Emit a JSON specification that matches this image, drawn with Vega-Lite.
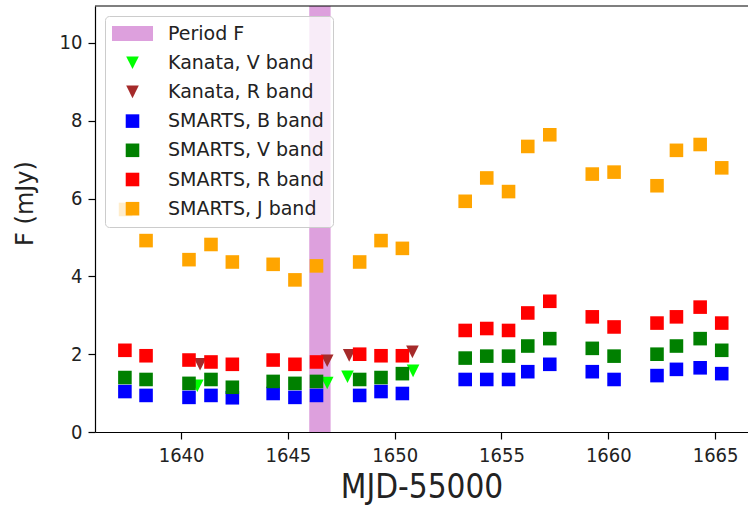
{
  "$schema": "https://vega.github.io/schema/vega-lite/v6.json",
  "width": 653,
  "height": 426,
  "autosize": {"type": "none"},
  "padding": {"left": 95, "top": 6, "right": 0, "bottom": 73},
  "background": "white",
  "config": {
    "view": {"stroke": null},
    "font": "DejaVu Sans Condensed, DejaVu Sans"
  },
  "datasets": {
    "band": [{"series": "Period F", "start": 1646.0, "end": 1647.0}],
    "photometry": [
      {"series": "Kanata, V band", "mjd": 1640.76, "flux": 1.19},
      {"series": "Kanata, V band", "mjd": 1646.84, "flux": 1.26},
      {"series": "Kanata, V band", "mjd": 1647.79, "flux": 1.42},
      {"series": "Kanata, V band", "mjd": 1650.86, "flux": 1.57},
      {"series": "Kanata, R band", "mjd": 1640.89, "flux": 1.74},
      {"series": "Kanata, R band", "mjd": 1646.84, "flux": 1.83},
      {"series": "Kanata, R band", "mjd": 1647.87, "flux": 1.97},
      {"series": "Kanata, R band", "mjd": 1650.83, "flux": 2.06},
      {"series": "SMARTS, B band", "mjd": 1637.37, "flux": 1.04},
      {"series": "SMARTS, B band", "mjd": 1638.36, "flux": 0.94},
      {"series": "SMARTS, B band", "mjd": 1640.37, "flux": 0.89},
      {"series": "SMARTS, B band", "mjd": 1641.40, "flux": 0.94},
      {"series": "SMARTS, B band", "mjd": 1642.40, "flux": 0.88},
      {"series": "SMARTS, B band", "mjd": 1644.31, "flux": 0.99},
      {"series": "SMARTS, B band", "mjd": 1645.33, "flux": 0.89},
      {"series": "SMARTS, B band", "mjd": 1646.34, "flux": 0.94},
      {"series": "SMARTS, B band", "mjd": 1648.36, "flux": 0.94},
      {"series": "SMARTS, B band", "mjd": 1649.36, "flux": 1.04},
      {"series": "SMARTS, B band", "mjd": 1650.36, "flux": 0.99},
      {"series": "SMARTS, B band", "mjd": 1653.30, "flux": 1.35},
      {"series": "SMARTS, B band", "mjd": 1654.31, "flux": 1.35},
      {"series": "SMARTS, B band", "mjd": 1655.33, "flux": 1.35},
      {"series": "SMARTS, B band", "mjd": 1656.23, "flux": 1.55},
      {"series": "SMARTS, B band", "mjd": 1657.26, "flux": 1.74},
      {"series": "SMARTS, B band", "mjd": 1659.25, "flux": 1.55},
      {"series": "SMARTS, B band", "mjd": 1660.27, "flux": 1.35},
      {"series": "SMARTS, B band", "mjd": 1662.28, "flux": 1.45},
      {"series": "SMARTS, B band", "mjd": 1663.19, "flux": 1.61},
      {"series": "SMARTS, B band", "mjd": 1664.30, "flux": 1.65},
      {"series": "SMARTS, B band", "mjd": 1665.31, "flux": 1.50},
      {"series": "SMARTS, V band", "mjd": 1637.37, "flux": 1.40},
      {"series": "SMARTS, V band", "mjd": 1638.36, "flux": 1.35},
      {"series": "SMARTS, V band", "mjd": 1640.37, "flux": 1.25},
      {"series": "SMARTS, V band", "mjd": 1641.40, "flux": 1.35},
      {"series": "SMARTS, V band", "mjd": 1642.40, "flux": 1.15},
      {"series": "SMARTS, V band", "mjd": 1644.31, "flux": 1.30},
      {"series": "SMARTS, V band", "mjd": 1645.33, "flux": 1.25},
      {"series": "SMARTS, V band", "mjd": 1646.34, "flux": 1.30},
      {"series": "SMARTS, V band", "mjd": 1648.36, "flux": 1.35},
      {"series": "SMARTS, V band", "mjd": 1649.36, "flux": 1.40},
      {"series": "SMARTS, V band", "mjd": 1650.36, "flux": 1.50},
      {"series": "SMARTS, V band", "mjd": 1653.30, "flux": 1.90},
      {"series": "SMARTS, V band", "mjd": 1654.31, "flux": 1.95},
      {"series": "SMARTS, V band", "mjd": 1655.33, "flux": 1.95},
      {"series": "SMARTS, V band", "mjd": 1656.23, "flux": 2.21},
      {"series": "SMARTS, V band", "mjd": 1657.26, "flux": 2.40},
      {"series": "SMARTS, V band", "mjd": 1659.25, "flux": 2.15},
      {"series": "SMARTS, V band", "mjd": 1660.27, "flux": 1.95},
      {"series": "SMARTS, V band", "mjd": 1662.28, "flux": 2.00},
      {"series": "SMARTS, V band", "mjd": 1663.19, "flux": 2.21},
      {"series": "SMARTS, V band", "mjd": 1664.30, "flux": 2.40},
      {"series": "SMARTS, V band", "mjd": 1665.31, "flux": 2.10},
      {"series": "SMARTS, R band", "mjd": 1637.37, "flux": 2.10},
      {"series": "SMARTS, R band", "mjd": 1638.36, "flux": 1.96},
      {"series": "SMARTS, R band", "mjd": 1640.37, "flux": 1.85},
      {"series": "SMARTS, R band", "mjd": 1641.40, "flux": 1.80},
      {"series": "SMARTS, R band", "mjd": 1642.40, "flux": 1.74},
      {"series": "SMARTS, R band", "mjd": 1644.31, "flux": 1.85},
      {"series": "SMARTS, R band", "mjd": 1645.33, "flux": 1.74},
      {"series": "SMARTS, R band", "mjd": 1646.34, "flux": 1.80},
      {"series": "SMARTS, R band", "mjd": 1648.36, "flux": 2.00},
      {"series": "SMARTS, R band", "mjd": 1649.36, "flux": 1.96},
      {"series": "SMARTS, R band", "mjd": 1650.36, "flux": 1.96},
      {"series": "SMARTS, R band", "mjd": 1653.30, "flux": 2.61},
      {"series": "SMARTS, R band", "mjd": 1654.31, "flux": 2.66},
      {"series": "SMARTS, R band", "mjd": 1655.33, "flux": 2.61},
      {"series": "SMARTS, R band", "mjd": 1656.23, "flux": 3.06},
      {"series": "SMARTS, R band", "mjd": 1657.26, "flux": 3.36},
      {"series": "SMARTS, R band", "mjd": 1659.25, "flux": 2.96},
      {"series": "SMARTS, R band", "mjd": 1660.27, "flux": 2.70},
      {"series": "SMARTS, R band", "mjd": 1662.28, "flux": 2.80},
      {"series": "SMARTS, R band", "mjd": 1663.19, "flux": 2.96},
      {"series": "SMARTS, R band", "mjd": 1664.30, "flux": 3.21},
      {"series": "SMARTS, R band", "mjd": 1665.31, "flux": 2.80},
      {"series": "SMARTS, J band", "mjd": 1637.40, "flux": 5.72},
      {"series": "SMARTS, J band", "mjd": 1638.36, "flux": 4.92},
      {"series": "SMARTS, J band", "mjd": 1640.37, "flux": 4.43},
      {"series": "SMARTS, J band", "mjd": 1641.40, "flux": 4.82},
      {"series": "SMARTS, J band", "mjd": 1642.40, "flux": 4.37},
      {"series": "SMARTS, J band", "mjd": 1644.31, "flux": 4.31},
      {"series": "SMARTS, J band", "mjd": 1645.33, "flux": 3.91},
      {"series": "SMARTS, J band", "mjd": 1646.34, "flux": 4.27},
      {"series": "SMARTS, J band", "mjd": 1648.36, "flux": 4.37},
      {"series": "SMARTS, J band", "mjd": 1649.36, "flux": 4.92},
      {"series": "SMARTS, J band", "mjd": 1650.36, "flux": 4.72},
      {"series": "SMARTS, J band", "mjd": 1653.30, "flux": 5.93},
      {"series": "SMARTS, J band", "mjd": 1654.31, "flux": 6.53},
      {"series": "SMARTS, J band", "mjd": 1655.33, "flux": 6.18},
      {"series": "SMARTS, J band", "mjd": 1656.23, "flux": 7.34},
      {"series": "SMARTS, J band", "mjd": 1657.26, "flux": 7.64},
      {"series": "SMARTS, J band", "mjd": 1659.25, "flux": 6.63},
      {"series": "SMARTS, J band", "mjd": 1660.27, "flux": 6.68},
      {"series": "SMARTS, J band", "mjd": 1662.28, "flux": 6.33},
      {"series": "SMARTS, J band", "mjd": 1663.19, "flux": 7.24},
      {"series": "SMARTS, J band", "mjd": 1664.30, "flux": 7.39},
      {"series": "SMARTS, J band", "mjd": 1665.31, "flux": 6.79}
    ]
  },
  "layer": [
    {
      "data": {"name": "band"},
      "mark": {"type": "rect", "opacity": 1},
      "encoding": {
        "x": {"field": "start", "type": "quantitative", "scale": {"domain": [1635.97, 1666.54], "nice": false, "zero": false}},
        "x2": {"field": "end"},
        "color": {"field": "series", "type": "nominal"}
      }
    },
    {
      "data": {"name": "band"},
      "mark": {"type": "rule", "color": "black", "strokeWidth": 1.2},
      "encoding": {
        "y": {"datum": 10.95, "type": "quantitative"}
      }
    },
    {
      "data": {"name": "photometry"},
      "mark": {"type": "point", "filled": true, "size": 196, "opacity": 1, "strokeWidth": 0},
      "encoding": {
        "x": {
          "field": "mjd",
          "type": "quantitative",
          "scale": {"domain": [1635.97, 1666.54], "nice": false, "zero": false},
          "axis": {
            "values": [1640, 1645, 1650, 1655, 1660, 1665],
            "format": "d",
            "title": "MJD-55000",
            "grid": false,
            "domainColor": "black",
            "domainWidth": 1.2,
            "tickColor": "black",
            "tickWidth": 1.2,
            "tickSize": 7,
            "labelFontSize": 20,
            "labelColor": "#222222",
            "labelPadding": 6,
            "labelFlush": false,
            "titleFontSize": 33,
            "titleFontWeight": "normal",
            "titleColor": "#222222",
            "titleBaseline": "alphabetic",
            "titleY": 65
          }
        },
        "y": {
          "field": "flux",
          "type": "quantitative",
          "scale": {"domain": [0, 10.95], "nice": false, "zero": true},
          "axis": {
            "values": [0, 2, 4, 6, 8, 10],
            "title": "F (mJy)",
            "grid": false,
            "domainColor": "black",
            "domainWidth": 1.2,
            "tickColor": "black",
            "tickWidth": 1.2,
            "tickSize": 7,
            "labelFontSize": 20,
            "labelColor": "#222222",
            "labelPadding": 6,
            "labelFlush": false,
            "titleFont": "DejaVu Sans",
            "titleFontSize": 24,
            "titleFontWeight": "normal",
            "titleColor": "#222222",
            "titleAlign": "center",
            "titleBaseline": "alphabetic",
            "titleX": -63,
            "titleY": 197
          }
        },
        "color": {
          "field": "series",
          "type": "nominal",
          "scale": {
            "domain": ["Period F", "Kanata, V band", "Kanata, R band", "SMARTS, B band", "SMARTS, V band", "SMARTS, R band", "SMARTS, J band"],
            "range": ["#dda0dd", "#00ff00", "#a52a2a", "#0000ff", "#008000", "#ff0000", "#ffa500"]
          },
          "legend": {
            "title": null,
            "orient": "none",
            "legendX": 10,
            "legendY": 10,
            "labelFont": "DejaVu Sans",
            "labelFontSize": 19,
            "labelColor": "#222222",
            "labelOffset": 26,
            "symbolOffset": 10,
            "symbolSize": 196,
            "symbolStrokeWidth": 0,
            "symbolOpacity": 1,
            "padding": 8,
            "rowPadding": 9.2,
            "fillColor": "rgba(255,255,255,0.8)",
            "strokeColor": "#cccccc",
            "cornerRadius": 4
          }
        },
        "shape": {
          "field": "series",
          "type": "nominal",
          "scale": {
            "domain": ["Period F", "Kanata, V band", "Kanata, R band", "SMARTS, B band", "SMARTS, V band", "SMARTS, R band", "SMARTS, J band"],
            "range": [
              "M-2.93,-1.07H2.93V1.07H-2.93Z",
              "M-0.9,-0.9L0.9,-0.9L0,0.9Z",
              "M-0.9,-0.9L0.9,-0.9L0,0.9Z",
              "M-0.97,-0.97H0.97V0.97H-0.97Z",
              "M-0.97,-0.97H0.97V0.97H-0.97Z",
              "M-0.97,-0.97H0.97V0.97H-0.97Z",
              "M-0.97,-0.97H0.97V0.97H-0.97Z"
            ]
          },
          "legend": {
            "title": null,
            "orient": "none",
            "legendX": 10,
            "legendY": 10,
            "labelFont": "DejaVu Sans",
            "labelFontSize": 19,
            "labelColor": "#222222",
            "labelOffset": 26,
            "symbolOffset": 10,
            "symbolSize": 196,
            "symbolStrokeWidth": 0,
            "symbolOpacity": 1,
            "padding": 8,
            "rowPadding": 9.2,
            "fillColor": "rgba(255,255,255,0.8)",
            "strokeColor": "#cccccc",
            "cornerRadius": 4
          }
        }
      }
    }
  ]
}
